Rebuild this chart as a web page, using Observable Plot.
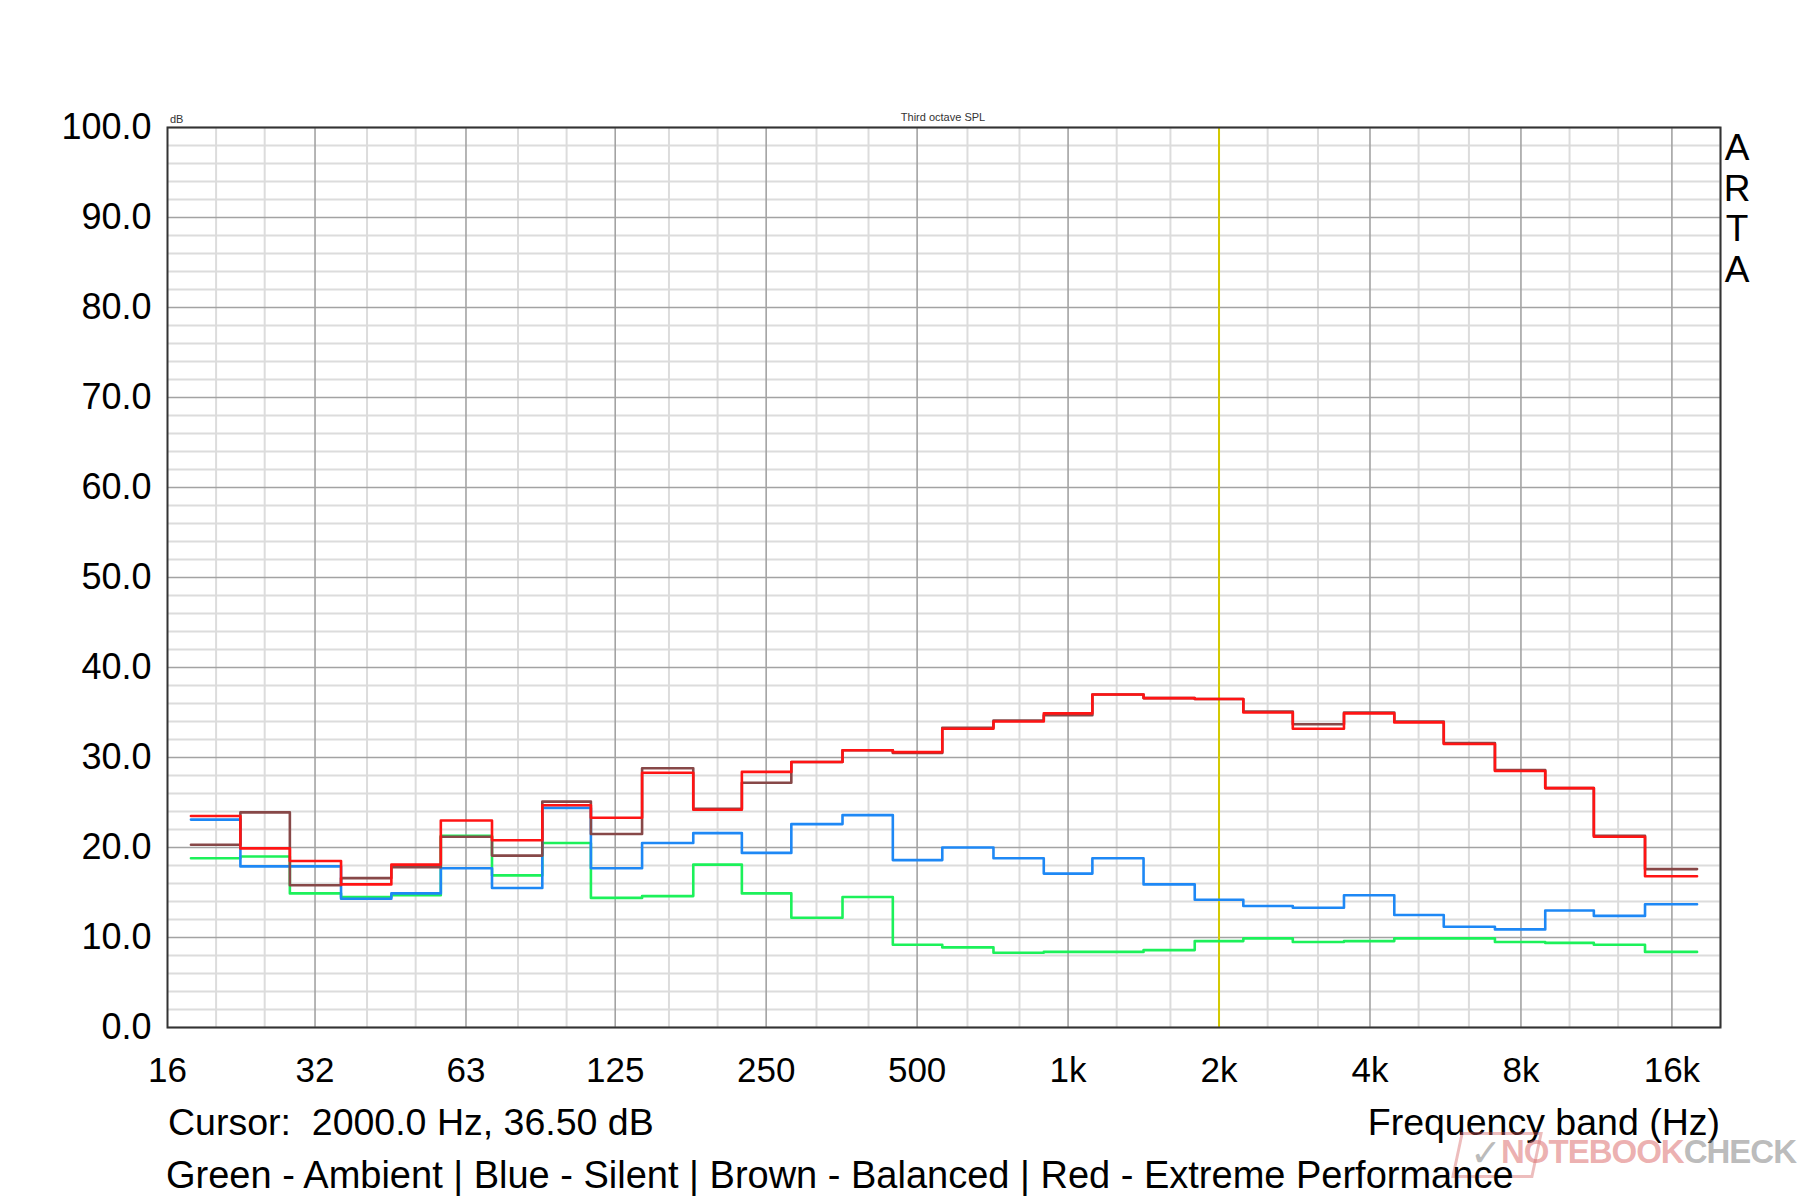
<!DOCTYPE html>
<html><head><meta charset="utf-8">
<script src="https://cdn.jsdelivr.net/npm/d3@7"></script>
<script src="https://cdn.jsdelivr.net/npm/@observablehq/plot@0.6"></script>
<style>
body{margin:0;background:#fff;}
#wrap{position:relative;width:1803px;height:1200px;font-family:"Liberation Sans",Arial,sans-serif;color:#000;overflow:hidden;background:#fff}
#chart{position:absolute;left:0;top:0}
.t{position:absolute;white-space:pre;line-height:1}
</style></head><body>
<div id="wrap">
<div id="chart"></div>
<div class="t" style="left:170px;top:114px;font-size:11px;color:#333">dB</div>
<div class="t" style="left:843px;width:200px;text-align:center;top:112px;font-size:11px;color:#333">Third octave SPL</div>
<div class="t" style="left:1722px;width:30px;text-align:center;top:128px;font-size:37px;line-height:40.7px;white-space:normal">A<br>R<br>T<br>A</div>
<div class="t" style="left:168px;top:1104px;font-size:37.5px">Cursor:  2000.0 Hz, 36.50 dB</div>
<div class="t" style="right:83px;top:1104px;font-size:37.5px">Frequency band (Hz)</div>
<div class="t" style="left:1456px;top:1132px;width:76px;height:40px;border:3px solid rgba(210,90,90,0.4);transform:skewX(-12deg);"></div>
<div class="t" style="left:1470px;top:1134px;font-size:38px;color:rgba(120,120,120,0.5)">✓</div>
<div class="t" style="left:1501px;top:1135px;font-size:33px;letter-spacing:-1px;font-weight:bold"><span style="color:rgba(220,110,110,0.55)">NOTEBOOK</span><span style="color:rgba(130,130,130,0.55)">CHECK</span></div>
<div class="t" style="left:166px;top:1156px;font-size:38px">Green - Ambient | Blue - Silent | Brown - Balanced | Red - Extreme Performance</div>
</div>
<script>
// Third-octave band centres (Hz)
const bandCenters = [20,25,31.5,40,50,63,80,100,125,160,200,250,315,400,500,630,800,1000,1250,1600,2000,2500,3150,4000,5000,6300,8000,10000,12500,16000];
// Series values (dB)
const ambient  = [18.8,19.0,14.9,14.5,14.7,21.3,16.9,20.5,14.4,14.6,18.1,14.9,12.2,14.5,9.2,8.9,8.3,8.4,8.4,8.6,9.6,9.9,9.5,9.6,9.9,9.9,9.5,9.4,9.2,8.4];
const silent   = [23.1,17.9,17.9,14.3,14.9,17.7,15.5,24.4,17.7,20.5,21.6,19.4,22.6,23.6,18.6,20.0,18.8,17.1,18.8,15.9,14.2,13.5,13.3,14.7,12.5,11.2,10.9,13.0,12.4,13.7];
const balanced = [20.3,23.9,15.8,16.6,17.8,21.2,19.1,25.1,21.5,28.8,24.3,27.2,29.5,30.8,30.5,33.3,34.1,34.7,37.0,36.6,36.5,35.1,33.7,35.0,34.0,31.6,28.6,26.6,21.3,17.6];
const extreme  = [23.5,19.9,18.5,15.9,18.1,23.0,20.8,24.7,23.3,28.3,24.2,28.4,29.5,30.8,30.6,33.2,34.0,34.9,37.0,36.6,36.5,35.0,33.2,34.9,33.9,31.5,28.5,26.6,21.2,16.8];
// Axis ticks
const xTicks = [16,31.5,63,125,250,500,1000,2000,4000,8000,16000];
const xTickLabels = ["16","32","63","125","250","500","1k","2k","4k","8k","16k"];
const yTicks = [0,10,20,30,40,50,60,70,80,90,100];
const minorX = [20,25,40,50,80,100,160,200,315,400,630,800,1250,1600,2500,3150,5000,6300,10000,12500,20000];
const cursorFreq = 2000;

const minorY = d3.range(0, 100, 2).filter(v => v % 10 !== 0);
const n = bandCenters.length;
const edges = [bandCenters[0] / Math.pow(2, 1/6)];
for (let i = 1; i < n; i++) edges.push(Math.sqrt(bandCenters[i-1] * bandCenters[i]));
edges.push(bandCenters[n-1] * Math.pow(2, 1/6));
const steps = vals => vals.flatMap((v, i) => [{f: edges[i], v}, {f: edges[i+1], v}]);
const xLabelData = xTicks.map((f, i) => ({f, label: xTickLabels[i]}));

const series = [
  {vals: ambient,  color: "#1cf15a"},
  {vals: silent,   color: "#1e88f5"},
  {vals: balanced, color: "#874848"},
  {vals: extreme,  color: "#ff1414"}
];

const chart = Plot.plot({
  width: 1803,
  height: 1100,
  marginLeft: 167,
  marginRight: 83,
  marginTop: 127,
  marginBottom: 73,
  style: {fontFamily: "'Liberation Sans', Arial, sans-serif", color: "#000", background: "transparent", overflow: "visible"},
  x: {type: "log", domain: [16, 20000], axis: null},
  y: {domain: [0, 100]},
  marks: [
    Plot.ruleX(minorX, {stroke: "#dcdcdc", strokeWidth: 2}),
    Plot.ruleY(minorY, {stroke: "#dcdcdc", strokeWidth: 2}),
    Plot.ruleX(xTicks.slice(1), {stroke: "#a3a3a3", strokeWidth: 1.6}),
    Plot.ruleY(yTicks, {stroke: "#a3a3a3", strokeWidth: 1.6}),
    Plot.ruleX([cursorFreq], {stroke: "#d4ca00", strokeWidth: 2}),
    ...series.map(s => Plot.line(steps(s.vals), {x: "f", y: "v", stroke: s.color, strokeWidth: 2.6})),
    Plot.frame({stroke: "#333", strokeWidth: 2}),
    Plot.axisY(yTicks, {tickSize: 0, tickPadding: 16, tickFormat: d => d.toFixed(1), fontSize: 36, label: null}),
    Plot.text(xLabelData, {x: "f", text: "label", frameAnchor: "bottom", dy: 43, lineAnchor: "middle", textAnchor: "middle", fontSize: 35, fill: "#000"})
  ]
});
document.getElementById("chart").appendChild(chart);
</script>
</body></html>
